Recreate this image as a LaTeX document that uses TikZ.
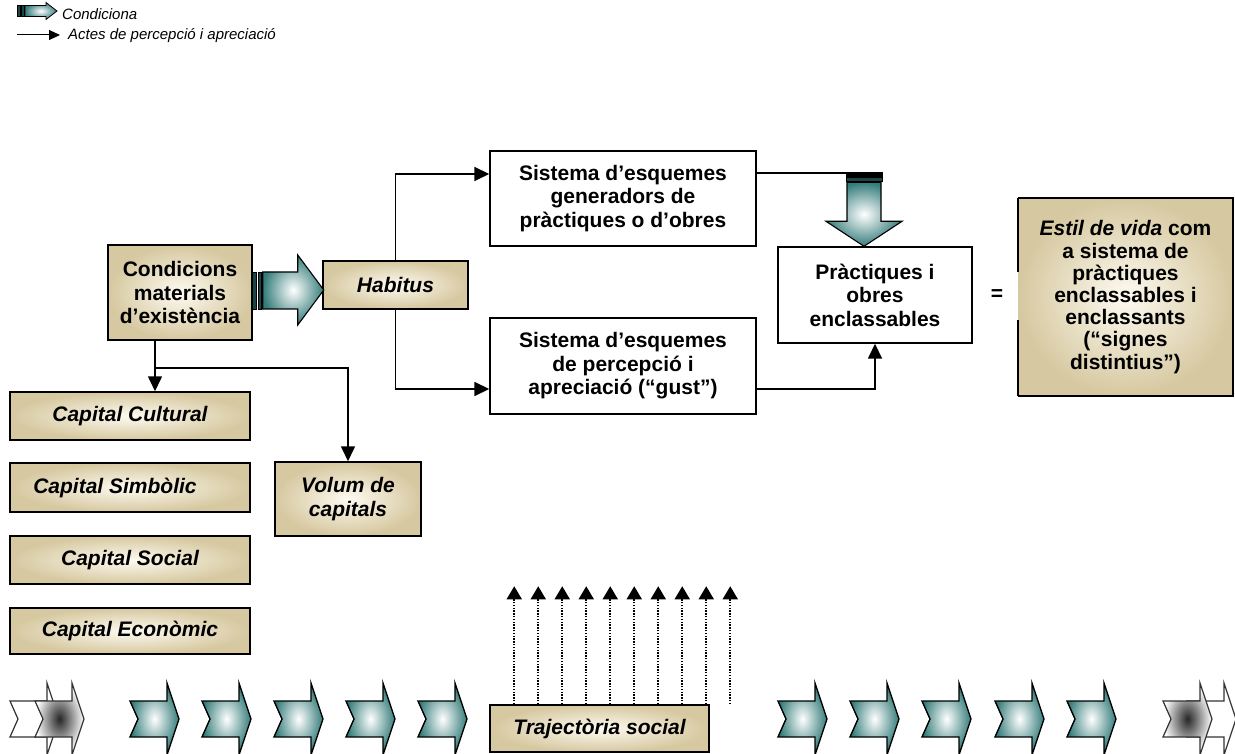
\documentclass[tikz,border=0pt]{standalone}
\usepackage{fontspec}
\setmainfont{Liberation Sans}
\usetikzlibrary{arrows.meta,calc}
\definecolor{tanout}{RGB}{214,200,160}
\definecolor{tanin}{RGB}{253,250,240}
\definecolor{tealx}{RGB}{52,124,122}
\definecolor{darkteal}{RGB}{28,70,70}
\tikzset{
 lbl/.style={font=\bfseries\fontsize{21}{23.5}\selectfont, align=center, inner sep=0pt},
 tanbox/.style={lbl, draw=black, line width=1.5pt, inner color=tanin, outer color=tanout},
 whitebox/.style={lbl, draw=black, line width=1.4pt, fill=white},
 conn/.style={draw=black, line width=1.6pt, -{Triangle[length=15pt,width=14pt]}},
 dotconn/.style={draw=black, line width=1.6pt, dash pattern=on 1.4pt off 1.4pt, -{Triangle[length=13pt,width=15pt]}},
 fatarrow/.style={draw=black, line width=1.1pt, inner color=white, outer color=tealx},
 stripe/.style={draw=black, line width=0.6pt, fill=darkteal},
 tchev/.style={draw=black, line width=1.4pt, inner color=white, outer color=tealx},
 gchev/.style={draw=black!80, line width=1.2pt, inner color=black!85, outer color=white},
 wchev/.style={draw=black!80, line width=1.2pt, fill=white},
 pics/chev/.style={code={\path[pic actions] (0,-18) -- (37,-18) -- (37,-36) -- (49,0) -- (37,36) -- (37,18) -- (0,18) -- (8,0) -- cycle;}},
}
\begin{document}
\begin{tikzpicture}[x=1pt,y=-1pt]
\useasboundingbox (0,0) rectangle (1235,754);

% legend
\begin{scope}[shift={(17,11)}]
 \path[stripe, line width=0.4pt] (0,-5.5) rectangle (3,5.5);
 \path[stripe, line width=0.4pt] (4,-5.5) rectangle (7,5.5);
 \path[fatarrow, line width=0.8pt] (8,-5.5) -- (29,-5.5) -- (29,-8.5) -- (40,0) -- (29,8.5) -- (29,5.5) -- (8,5.5) -- cycle;
\end{scope}
\node[anchor=base west, font=\itshape\fontsize{15}{16}\selectfont, inner sep=0pt] (lg1) at (62,20) {Condiciona};
\coordinate (lga) at (17,35);
\coordinate (lgb) at (60,35);
\draw[line width=1pt, -{Triangle[length=11pt,width=10pt]}] (lga) -- (lgb);
\node[anchor=base west, font=\itshape\fontsize{15}{16}\selectfont, inner sep=0pt] (lg2) at (68,40) {Actes de percepció i apreciació};

% main boxes
\node[tanbox, minimum width=144pt, minimum height=95pt] (cond) at (180,292.5) {Condicions\\materials\\d’existència};
\node[tanbox, minimum width=145pt, minimum height=48pt, font=\bfseries\itshape\fontsize{21}{23.5}\selectfont] (hab) at (395.5,285) {Habitus};
\node[whitebox, minimum width=266pt, minimum height=95pt] (sys1) at (623,198.5) {Sistema d’esquemes\\generadors de\\pràctiques o d’obres};
\node[whitebox, minimum width=266pt, minimum height=96pt] (sys2) at (623,366) {Sistema d’esquemes\\de percepció i\\apreciació (“gust”)};
\node[whitebox, minimum width=194pt, minimum height=96pt] (prac) at (875,295) {Pràctiques i\\obres\\enclassables};
\node[lbl] (eq) at (997,295) {=};
\node[lbl, inner color=tanin, outer color=tanout, minimum width=215pt, minimum height=198pt, font=\bfseries\fontsize{21}{22.2}\selectfont] (estil) at (1125.5,297) {\textit{Estil de vida} com\\a sistema de\\pràctiques\\enclassables i\\enclassants\\(“signes\\distintius”)};
\draw[line width=1.5pt] (estil.north west) -- (estil.north east) -- (estil.south east) -- (estil.south west);
\draw[line width=1.5pt] (estil.north west) -- ($(estil.north west)+(0,74)$);
\draw[line width=1.5pt] (estil.south west) -- ($(estil.south west)+(0,-76)$);

\begin{scope}[every node/.style={tanbox, minimum width=240pt, font=\bfseries\itshape\fontsize{21}{23.5}\selectfont}]
\node[minimum height=48pt] (cc) at (130,416) {Capital Cultural};
\node[minimum height=49pt] (cs) at (130,487.5) {Capital Simbòlic\hspace*{30pt}};
\node[minimum height=48pt] (cso) at (130,560) {Capital Social};
\node[minimum height=46pt] (ce) at (130,631) {Capital Econòmic};
\end{scope}
\node[tanbox, minimum width=146pt, minimum height=74pt, font=\bfseries\itshape\fontsize{21}{23.5}\selectfont] (vol) at (348,499) {Volum de\\capitals};
\node[tanbox, minimum width=219pt, minimum height=47pt, font=\bfseries\itshape\fontsize{21}{23.5}\selectfont] (traj) at (599.5,728.5) {Trajectòria social};

% fat arrow condicions -> habitus
\begin{scope}[shift={(cond.east)}]
 \path[stripe] (0,-20.5) rectangle (4,16.5);
 \path[stripe] (5.5,-20.5) rectangle (9,16.5);
 \path[fatarrow] (10,-20.5) -- (45,-20.5) -- (45,-37.5) -- (71,-2.5) -- (45,32.5) -- (45,16.5) -- (10,16.5) -- cycle;
\end{scope}

% fat arrow down to practiques
\coordinate (dtop) at ($(prac.north)+(-28,-73)$);
\draw[line width=1.6pt] (sys1.east |- dtop) -- (dtop);
\begin{scope}[shift={(prac.north)}]
 \path[stripe, fill=black] (-29,-74) rectangle (7,-70);
 \path[stripe] (-29,-69) rectangle (7,-65);
 \path[fatarrow] (-28,-64) -- (6,-64) -- (6,-25) -- (27,-25) -- (-11,0) -- (-49,-25) -- (-28,-25) -- cycle;
\end{scope}

% connectors
\draw[conn] (hab.north) |- ($(sys1.west)+(0,-24.5)$);
\draw[conn] (hab.south) |- ($(sys2.west)+(0,23)$);
\draw[conn] ($(sys2.east)+(0,23)$) -| (prac.south);
\coordinate (br) at ($(cond.south)+(-25,27)$);
\draw[conn] ($(cond.south)+(-25,0)$) -- ($(cc.north)+(25,0)$);
\draw[conn] (br) -| (vol.north);

% dotted arrows
\foreach \i in {0,...,9} {
 \draw[dotconn] ($(traj.north west)+(25+24*\i,0)$) -- ($(traj.north west)+(25+24*\i,-118)$);
}

% chevrons
\pic[wchev] at (10,719) {chev};
\pic[gchev] at (35,719) {chev};
\foreach \x in {130,202,274,346,418,778,850,922,995,1067} {
 \pic[tchev] at (\x,719) {chev};
}
\pic[wchev] at (1187,719) {chev};
\pic[gchev] at (1163,719) {chev};
\end{tikzpicture}
\end{document}
